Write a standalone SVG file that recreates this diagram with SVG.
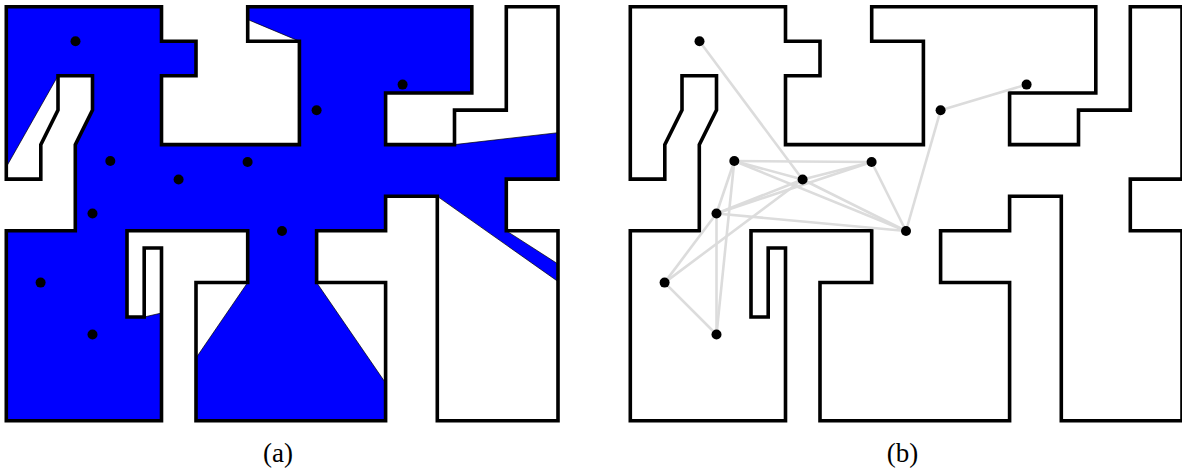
<svg xmlns="http://www.w3.org/2000/svg" xmlns:xlink="http://www.w3.org/1999/xlink" width="1182" height="470" viewBox="0 0 1182 470">
<style>
.wall{fill:none;stroke:#000;stroke-width:3.6;stroke-linejoin:miter}
.vis{fill:#0000ff;stroke:#000;stroke-width:.7}
.dot{fill:#000}
.edge{stroke:#dcdcdc;stroke-width:2.6;fill:none}
.cap{font-family:"Liberation Serif","Times New Roman",serif;font-size:27px;fill:#000;text-anchor:middle}
</style>
<defs>
<path id="outline" d="M6.3 6.7H161.5V41.2H196V75.7H161.5V144.6H299.4V41.2H247.7V6.7H471.8V93H385.6V144.6H454.5V110.1H506.3V6.7H558V179.1H506.3V230.8H558V420.7H437.3V196.3H385.6V230.8H316.6V282.5H385.6V420.7H196V282.5H247.7V230.8H127V317H144.2V248H161.5V420.7H6.3V230.8H75.3V144.6L92.5 110.1V75.7H58V110.1L40.8 144.6V179.1H6.3Z"/>
</defs>
<g id="panel-a">
<polygon id="visible-region" class="vis" points="6.3,6.7 161.5,6.7 161.5,41.2 196,41.2 196,75.7 161.5,75.7 161.5,144.6 299.4,144.6 299.4,41.2 247.7,19.5 247.7,6.7 471.8,6.7 471.8,93 385.6,93 385.6,144.6 454.5,144.6 558,132.7 558,179.1 506.3,179.1 506.3,230.8 558,264 558,281.5 437.3,196.3 385.6,196.3 385.6,230.8 316.6,230.8 316.6,282.5 385.6,383 385.6,420.7 196,420.7 196,358 247.7,282.5 247.7,230.8 127,230.8 127,317 144.2,317 161.5,313 161.5,420.7 6.3,420.7 6.3,230.8 75.3,230.8 75.3,144.6 92.5,110.1 92.5,75.7 58,75.7 6.3,167"/>
<use href="#outline" class="wall"/>
</g>
<g id="a-nodes">
<g id="a1"><circle class="dot" cx="75.5" cy="41.3" r="5"/></g>
<g id="a2"><circle class="dot" cx="110.3" cy="161" r="5"/></g>
<g id="a3"><circle class="dot" cx="178.6" cy="179.5" r="5"/></g>
<g id="a4"><circle class="dot" cx="247.6" cy="162" r="5"/></g>
<g id="a5"><circle class="dot" cx="92.5" cy="213.5" r="5"/></g>
<g id="a6"><circle class="dot" cx="282" cy="231" r="5"/></g>
<g id="a7"><circle class="dot" cx="316.6" cy="110.3" r="5"/></g>
<g id="a8"><circle class="dot" cx="402.6" cy="84.6" r="5"/></g>
<g id="a9"><circle class="dot" cx="40.6" cy="282.6" r="5"/></g>
<g id="a10"><circle class="dot" cx="92.5" cy="334.5" r="5"/></g>
</g>
<g id="panel-b">
<use href="#outline" x="624" class="wall"/>
</g>
<g id="connectors">
<path class="edge" d="M699.5 41.3L802.6 179.5"/>
<path class="edge" d="M734.3 161L871.6 162"/>
<path class="edge" d="M734.3 161L802.6 179.5"/>
<path class="edge" d="M734.3 161L906 231"/>
<path class="edge" d="M734.3 161L716.5 213.5"/>
<path class="edge" d="M734.3 161L716.5 334.5"/>
<path class="edge" d="M871.6 162L802.6 179.5"/>
<path class="edge" d="M871.6 162L716.5 213.5"/>
<path class="edge" d="M871.6 162L906 231"/>
<path class="edge" d="M802.6 179.5L716.5 213.5"/>
<path class="edge" d="M802.6 179.5L906 231"/>
<path class="edge" d="M802.6 179.5L664.6 282.6"/>
<path class="edge" d="M716.5 213.5L906 231"/>
<path class="edge" d="M716.5 213.5L664.6 282.6"/>
<path class="edge" d="M716.5 213.5L716.5 334.5"/>
<path class="edge" d="M664.6 282.6L716.5 334.5"/>
<path class="edge" d="M906 231L940.6 110.3"/>
<path class="edge" d="M940.6 110.3L1026.6 84.6"/>
</g>
<g id="b-nodes">
<g id="b1"><circle class="dot" cx="699.5" cy="41.3" r="5"/></g>
<g id="b2"><circle class="dot" cx="734.3" cy="161" r="5"/></g>
<g id="b3"><circle class="dot" cx="802.6" cy="179.5" r="5"/></g>
<g id="b4"><circle class="dot" cx="871.6" cy="162" r="5"/></g>
<g id="b5"><circle class="dot" cx="716.5" cy="213.5" r="5"/></g>
<g id="b6"><circle class="dot" cx="906" cy="231" r="5"/></g>
<g id="b7"><circle class="dot" cx="940.6" cy="110.3" r="5"/></g>
<g id="b8"><circle class="dot" cx="1026.6" cy="84.6" r="5"/></g>
<g id="b9"><circle class="dot" cx="664.6" cy="282.6" r="5"/></g>
<g id="b10"><circle class="dot" cx="716.5" cy="334.5" r="5"/></g>
</g>
<text class="cap" x="278" y="462">(a)</text>
<text class="cap" x="902.5" y="462">(b)</text>
</svg>
